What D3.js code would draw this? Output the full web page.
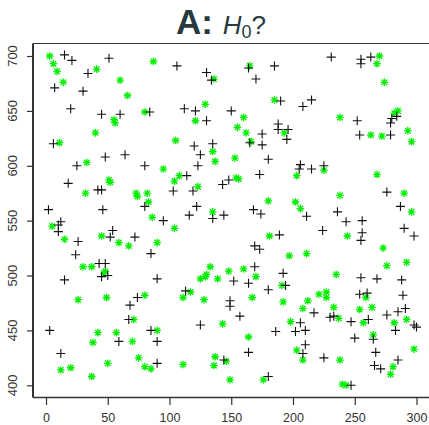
<!DOCTYPE html>
<html>
<head>
<meta charset="utf-8">
<script src="https://cdn.jsdelivr.net/npm/d3@7"></script>
<style>
  body { margin: 0; background: #fff; }
  text { font-family: "Liberation Sans", Arial, sans-serif; }
</style>
</head>
<body>
<div id="chart"></div>
<script>
// black "+" points  [x, y]
var plusPts = [
  [15,701],[21,696],[51,698],[34,684],[7,671],[30,668],[20,652],[45,647],[60,647],[84,649],[6,620],[48,608],[64,610],
  [106,691],[164,689],[185,691],[130,685],[134,678],[170,679],[190,659],[112,652],[121,650],[150,650],[130,641],
  [188,638],[188,633],[196,633],[175,629],[195,624],[120,618],[135,620],[165,621],[175,619],[125,610],[180,606],
  [231,699],[255,697],[255,693],[263,699],[215,660],[208,654],[252,641],[280,643],[284,645],[279,639],[279,628],[254,628],
  [25,600],[80,600],[18,584],[42,578],[45,578],[80,563],[2,560],[46,560],[12,549],[10,546],[10,540],[26,531],[24,519],
  [54,541],[52,535],[72,535],[85,520],[43,511],[48,511],[45,499],[50,500],[15,496],[90,497],
  [123,600],[114,591],[103,577],[119,577],[143,583],[148,587],[173,592],[122,563],[116,555],[135,552],[144,555],
  [168,560],[174,556],[95,550],[189,537],[169,527],[173,524],[169,508],[152,495],[192,502],
  [206,601],[205,597],[215,597],[225,600],[276,576],[211,554],[236,558],[243,549],[256,550],[287,563],[224,541],
  [256,539],[255,532],[290,543],[298,536],[255,498],[268,497],[288,496],
  [74,480],[68,473],[67,460],[3,450],[85,450],[59,440],[90,440],[12,429],[90,420],
  [164,493],[113,486],[149,477],[149,472],[180,487],[194,491],[157,463],[125,455],[186,449],[164,430],[144,423],[180,408],
  [254,483],[260,484],[289,482],[217,466],[230,462],[233,463],[276,464],[285,467],[291,470],[247,458],[261,460],
  [298,455],[300,453],[283,450],[206,457],[202,449],[210,450],[210,437],[208,429],[225,425],[250,443],[265,442],
  [267,430],[266,418],[271,415],[285,423],[247,400]
];

// green star points  [x, y]
var starPts = [
  [3,700],[6,693],[87,695],[9,686],[41,688],[14,676],[60,678],[66,664],[80,649],[55,642],[56,639],[40,630],[11,621],
  [165,691],[136,679],[129,656],[185,660],[160,644],[121,641],[155,635],[162,630],[193,630],[105,623],[135,613],
  [166,622],[153,607],[137,604],
  [270,700],[268,693],[274,676],[238,644],[282,648],[285,650],[293,632],[296,622],[263,628],[272,627],
  [33,603],[51,587],[52,585],[32,575],[73,575],[74,572],[82,575],[83,567],[86,553],[5,545],[15,533],[45,536],
  [59,530],[67,527],[90,530],[30,508],[37,508],[48,504],[47,502],
  [95,597],[104,586],[108,591],[123,581],[154,589],[156,588],[135,558],[180,568],[104,543],[181,536],[197,518],
  [133,508],[148,504],[160,506],[130,501],[129,499],[125,497],[139,497],[170,499],
  [225,596],[203,591],[268,592],[290,575],[238,573],[202,567],[206,561],[296,558],[244,536],[273,525],[211,520],
  [276,509],[292,512],[235,501],
  [26,478],[49,480],[80,482],[71,460],[90,450],[42,448],[57,448],[38,439],[70,440],[75,425],[12,414],[20,416],
  [50,420],[80,417],[85,415],[37,408],
  [117,485],[111,480],[128,478],[167,480],[191,491],[192,476],[143,456],[198,458],[164,444],[137,426],[136,418],
  [146,422],[111,419],[149,405],[176,405],
  [221,483],[227,485],[227,480],[212,477],[259,480],[208,470],[233,471],[237,461],[254,469],[264,471],[257,457],
  [282,457],[292,460],[203,432],[208,423],[238,423],[265,446],[281,417],[279,410],[298,433],[240,401],[243,400]
];

var xTicks = [0, 50, 100, 150, 200, 250, 300];
var yTicks = [400, 450, 500, 550, 600, 650, 700];

var width = 429, height = 425;
var box = { left: 33, top: 43.5, right: 440, bottom: 397.5 };

var svg = d3.select("#chart").append("svg")
    .attr("width", width)
    .attr("height", height);

var x = d3.scaleLinear().domain([0, 300]).range([46, 416.5]);
var y = d3.scaleLinear().domain([400, 700]).range([385.3, 56]);

// title  A: H0?
var title = svg.append("text")
    .attr("x", 221)
    .attr("y", 33.5)
    .attr("text-anchor", "middle")
    .attr("fill", "#263a40");
title.append("tspan").attr("font-weight", "bold").attr("font-size", 35).text("A: ");
title.append("tspan").attr("font-style", "italic").attr("font-size", 26).text("H");
title.append("tspan").attr("font-size", 18).attr("dy", 4).text("0");
title.append("tspan").attr("font-size", 26).attr("dy", -4).text("?");

// box (right side falls outside the picture)
svg.append("line").attr("x1", box.left).attr("x2", box.right)
    .attr("y1", box.top).attr("y2", box.top)
    .attr("stroke", "#333").attr("stroke-width", 1.2);
svg.append("line").attr("x1", box.left).attr("x2", box.right)
    .attr("y1", box.bottom).attr("y2", box.bottom)
    .attr("stroke", "#333").attr("stroke-width", 1.5);
svg.append("line").attr("x1", box.left).attr("x2", box.left)
    .attr("y1", box.top).attr("y2", box.bottom)
    .attr("stroke", "#333").attr("stroke-width", 2);

// x axis
var gx = svg.append("g")
    .attr("transform", "translate(0," + (box.bottom + 0.5) + ")")
    .call(d3.axisBottom(x).tickValues(xTicks).tickSize(7).tickPadding(8));
gx.select(".domain").remove();
gx.selectAll("line").attr("stroke", "#333").attr("stroke-width", 1.2);
gx.selectAll("text").attr("font-size", 12.5).attr("fill", "#333")
    .attr("font-family", "Liberation Sans, Arial, sans-serif");

// y axis, labels turned like base R
var gy = svg.append("g")
    .attr("transform", "translate(" + box.left + ",0)")
    .call(d3.axisLeft(y).tickValues(yTicks).tickSize(6).tickFormat(""));
gy.select(".domain").remove();
gy.selectAll("line").attr("stroke", "#333").attr("stroke-width", 1.2);

svg.append("g").selectAll("text")
    .data(yTicks)
    .enter().append("text")
    .attr("transform", function(d) { return "translate(16.5," + y(d) + ") rotate(-90)"; })
    .attr("text-anchor", "middle")
    .attr("font-size", 13)
    .attr("fill", "#333")
    .text(function(d) { return d; });

// green stars (plus + cross)
var s = 3.8, d = 2.8;
svg.append("g")
    .attr("stroke", "#00f000")
    .attr("stroke-width", 1.3)
    .selectAll("path")
    .data(starPts)
    .enter().append("path")
    .attr("d", function(p) {
        var cx = x(p[0]), cy = y(p[1]);
        return "M" + (cx - s) + "," + cy + "H" + (cx + s) +
               "M" + cx + "," + (cy - s) + "V" + (cy + s) +
               "M" + (cx - d) + "," + (cy - d) + "L" + (cx + d) + "," + (cy + d) +
               "M" + (cx - d) + "," + (cy + d) + "L" + (cx + d) + "," + (cy - d);
    });

// black plus signs
var r = 4.5;
svg.append("g")
    .attr("stroke", "#111")
    .attr("stroke-width", 1.1)
    .selectAll("path")
    .data(plusPts)
    .enter().append("path")
    .attr("d", function(p) {
        var cx = x(p[0]), cy = y(p[1]);
        return "M" + (cx - r) + "," + cy + "H" + (cx + r) +
               "M" + cx + "," + (cy - r) + "V" + (cy + r);
    });
</script>
</body>
</html>
